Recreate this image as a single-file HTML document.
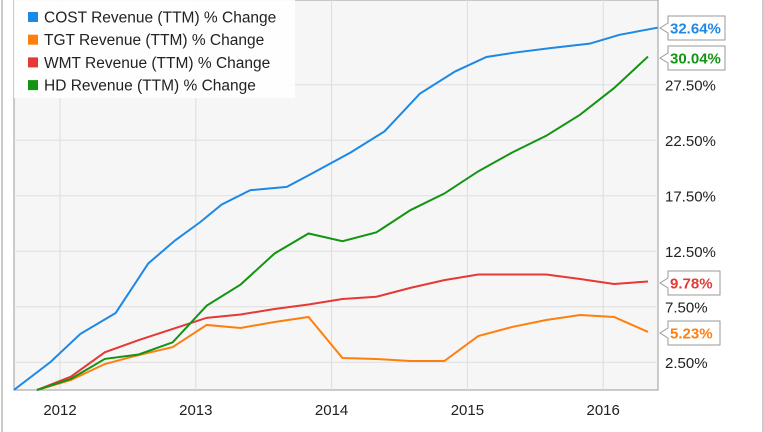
<!DOCTYPE html>
<html><head><meta charset="utf-8"><style>
body{margin:0;background:#fff;font-family:"Liberation Sans",sans-serif}
svg{display:block}
</style></head><body>
<svg width="764" height="432" xmlns="http://www.w3.org/2000/svg">
<rect x="2" y="-2" width="761" height="440" fill="#fff" stroke="#999"/>
<rect x="14" y="0" width="644" height="390" fill="#f6f6f6" stroke="#999"/>
<g id="grid"></g><g id="series"></g><g id="axes"></g><g id="legend"></g><g id="tags"></g>
</svg>
<script>
const xTicks=[2012,2013,2014,2015,2016];
const yTicks=[2.5,7.5,12.5,17.5,22.5,27.5];
const qDates=[2011.83,2012.08,2012.33,2012.58,2012.83,2013.08,2013.33,2013.58,2013.83,2014.08,2014.33,2014.58,2014.83,2015.08,2015.33,2015.58,2015.83,2016.08,2016.33];
const costDates=[2011.66,2011.93,2012.15,2012.41,2012.65,2012.85,2013.03,2013.19,2013.40,2013.67,2013.84,2014.14,2014.39,2014.65,2014.91,2015.14,2015.35,2015.61,2015.90,2016.12,2016.40];
const costVals=[0,2.52,5.05,6.94,11.4,13.5,15.1,16.7,18.0,18.3,19.4,21.4,23.3,26.7,28.7,30.0,30.4,30.8,31.2,32.0,32.64];
const tgtVals=[0,0.9,2.34,3.15,3.87,5.86,5.59,6.13,6.58,2.88,2.79,2.61,2.61,4.86,5.68,6.31,6.76,6.58,5.23];
const wmtVals=[0,1.2,3.4,4.5,5.5,6.5,6.8,7.3,7.7,8.2,8.4,9.2,9.9,10.4,10.4,10.4,10.0,9.55,9.78];
const hdVals=[0,1.0,2.8,3.2,4.3,7.6,9.5,12.3,14.1,13.4,14.2,16.2,17.7,19.7,21.4,22.9,24.8,27.2,30.04];
const names=["COST Revenue (TTM) % Change","TGT Revenue (TTM) % Change","WMT Revenue (TTM) % Change","HD Revenue (TTM) % Change"];
const colors=["#1e88e5","#ff7f0e","#e53935","#139413"];
const NS="http://www.w3.org/2000/svg";
const X=d=>60+(d-2012)*135.8;
const Y=v=>390-v*11.1;
function mk(t,a,p){const e=document.createElementNS(NS,t);for(const k in a)e.setAttribute(k,a[k]);p.appendChild(e);return e;}
const grid=document.getElementById('grid'),axes=document.getElementById('axes');
xTicks.forEach(t=>{
 const l=mk('line',{x1:X(t),x2:X(t),y1:0,y2:390,stroke:'#ddd'},grid);
 
 
 const tx=mk('text',{x:X(t),y:415,'text-anchor':'middle','font-size':15,fill:'#222'},axes);
 tx.textContent=t;
 
 
});
yTicks.forEach(t=>{
 const l=mk('line',{x1:14,x2:658,y1:Y(t),y2:Y(t),stroke:'#ddd'},grid);
 
 
 const tx=mk('text',{x:665,y:Y(t)+5.5,'font-size':15,fill:'#222'},axes);
 tx.textContent=t.toFixed(2)+'%';
 
 
});
const series=document.getElementById('series');
const data=[[costDates,costVals],[qDates,tgtVals],[qDates,wmtVals],[qDates,hdVals]];
const sNames=['cost-line','tgt-line','wmt-line','hd-line'];
data.forEach(([d,v],i)=>{
 const p=mk('polyline',{points:d.map((x,j)=>X(x)+','+Y(v[j])).join(' '),fill:'none',stroke:colors[i],'stroke-width':2},series);
 
 
});
const lg=document.getElementById('legend');
const bg=mk('rect',{x:14,y:0,width:281,height:98,fill:'#fff','fill-opacity':0.9},lg);


names.forEach((n,i)=>{
 const y=17+i*22.7;
 const s=mk('rect',{x:28,y:y-5,width:10,height:10,fill:colors[i]},lg);
 
 
 const t=mk('text',{x:44,y:y+5.5,'font-size':15.5,fill:'#222'},lg);
 t.textContent=n;
 
 
});
const tags=document.getElementById('tags');
const lastVals=[costVals[costVals.length-1],tgtVals[tgtVals.length-1],wmtVals[wmtVals.length-1],hdVals[hdVals.length-1]];
const tagY=[28,333,283,58];
const tagNames=['cost-value-tag','tgt-value-tag','wmt-value-tag','hd-value-tag'];
lastVals.forEach((v,i)=>{
 const txt=v.toFixed(2)+'%';
 const w=txt.length>5?57:52;
 const y=tagY[i];
 const g=mk('g',{},tags);
 
 
 mk('path',{d:`M660 ${y} L668 ${y-5} L668 ${y-12} L${668+w} ${y-12} L${668+w} ${y+12} L668 ${y+12} L668 ${y+5} Z`,fill:'#fff',stroke:'#999'},g);
 const t=mk('text',{x:670,y:y+5.5,'font-size':15,'font-weight':'bold',fill:colors[i]},g);
 t.textContent=txt;
});
</script>
</body></html>
